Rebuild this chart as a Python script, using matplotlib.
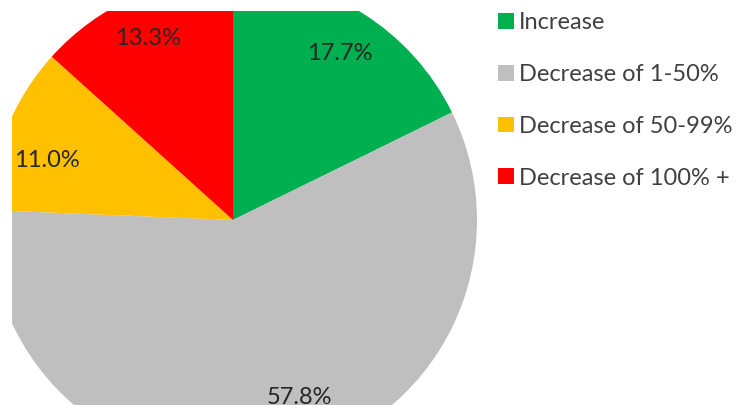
import numpy as np
import matplotlib
matplotlib.use("Agg")
from matplotlib import pyplot as plt

categories = ["Increase", "Decrease of 1-50%", "Decrease of 50-99%", "Decrease of 100% +"]
shares = [17.7, 57.8, 11.0, 13.3]
colors = ["#00B050", "#BFBFBF", "#FFC000", "#FF0000"]
# label distance from centre (fraction of radius) and extra angle shift, mimics Excel best fit
label_dist = [0.81, 0.775, 0.80, 0.82]
label_shift = [-1, 8.3, 4, 0.5]

W, H = 738, 405
plt.rcParams['font.family'] = ['Lato', 'DejaVu Sans']

fig = plt.figure(figsize=(W / 100, H / 100), dpi=100)
# axes in pixel space, clipped at left (x=12) and top (y=11)
left, top, right = 12, 11, 482
ax = fig.add_axes([left / W, 0, (right - left) / W, (H - top) / H])

cx, cy, r = 233, H - 220, 244
wedges, _ = ax.pie(shares, colors=colors, startangle=90, counterclock=False,
                   center=(cx, cy), radius=r, wedgeprops=dict(linewidth=0))
for w in wedges:
    w.set_clip_on(True)
    w.set_clip_path(ax.patch)
ax.set_xlim(left, right)
ax.set_ylim(0, H - top)
ax.set_aspect('auto')
ax.axis('off')

ang = 90
for s, d, sh in zip(shares, label_dist, label_shift):
    mid = np.deg2rad(ang - s * 3.6 / 2 + sh)
    ang -= s * 3.6
    ax.text(cx + d * r * np.cos(mid), cy + d * r * np.sin(mid), f"{s:.1f}%",
            ha='center', va='center', fontsize=17, color='#262626')

fig.legend(wedges, categories, loc='upper left', bbox_to_anchor=(489 / W, 1 - 3 / H),
           frameon=False, fontsize=17, handlelength=0.65, handleheight=0.65,
           handletextpad=0.2, labelspacing=1.3, borderaxespad=0,
           labelcolor='#404040')

fig.savefig("out.png", dpi=100)
